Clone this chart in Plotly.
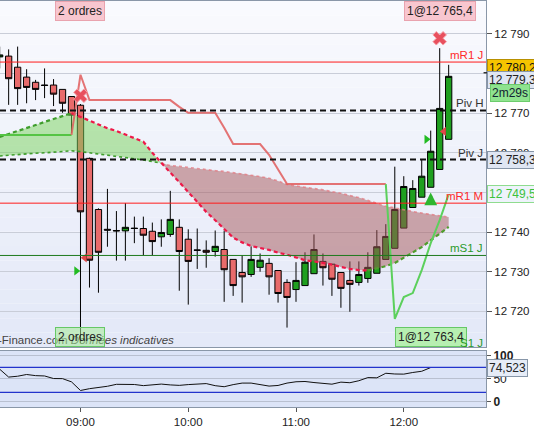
import plotly.graph_objects as go
import pandas as pd
import numpy as np

# ---------------- data ----------------
times = pd.date_range("2019-06-14 08:15", periods=51, freq="5min")

opens = [12784.2, 12784.4, 12781.6, 12779.1, 12777.8, 12777.1, 12777.1, 12776.0, 12774.2,
         12772.0, 12758.6, 12745.7, 12740.7, 12740.4, 12740.3, 12741.0, 12740.9, 12740.2, 12738.8,
         12739.4, 12741.2, 12738.2, 12735.5, 12735.4, 12735.1, 12735.6, 12733.1, 12729.8, 12729.3,
         12731.1, 12732.1, 12730.3, 12727.3, 12725.5, 12726.5, 12729.5, 12732.6, 12731.9, 12729.8,
         12727.8, 12727.3, 12728.3, 12729.6, 12733.1, 12735.9, 12741.0, 12746.2, 12748.8, 12751.3,
         12755.8, 12763.4]
highs = [12786.8, 12786.1, 12786.8, 12781.1, 12778.4, 12781.3, 12778.6, 12776.0, 12774.2,
         12772.3, 12758.8, 12746.0, 12750.9, 12745.3, 12747.3, 12743.9, 12743.9, 12742.4, 12743.2,
         12750.4, 12743.2, 12740.7, 12740.9, 12737.9, 12740.4, 12740.4, 12733.1, 12734.1, 12736.4,
         12734.6, 12733.4, 12730.3, 12728.1, 12732.4, 12734.9, 12739.4, 12734.6, 12731.9, 12729.8,
         12732.6, 12732.6, 12734.9, 12740.5, 12742.0, 12756.5, 12754.1, 12753.1, 12758.4, 12765.6,
         12786.4, 12782.2]
lows = [12781.3, 12772.1, 12772.1, 12772.5, 12773.3, 12773.8, 12771.8, 12770.1, 12765.0,
        12712.0, 12726.0, 12724.7, 12736.3, 12732.8, 12732.8, 12737.2, 12734.2, 12734.2, 12736.3,
        12738.8, 12725.2, 12721.7, 12730.7, 12731.0, 12733.8, 12722.4, 12723.9, 12722.2, 12728.7,
        12730.0, 12724.2, 12722.2, 12715.9, 12722.4, 12726.5, 12729.5, 12726.5, 12723.9, 12720.9,
        12719.9, 12726.5, 12727.2, 12729.6, 12733.1, 12735.9, 12741.0, 12746.2, 12748.8, 12751.3,
        12755.8, 12763.4]
closes = [12784.7, 12778.7, 12776.2, 12776.5, 12776.0, 12777.0, 12774.8, 12772.5, 12769.5,
          12745.1, 12732.9, 12734.9, 12740.5, 12740.3, 12741.2, 12740.9, 12739.2, 12737.6, 12739.9,
          12743.2, 12735.1, 12732.6, 12735.4, 12734.9, 12736.4, 12730.5, 12726.5, 12728.7, 12733.1,
          12732.9, 12728.7, 12724.5, 12723.5, 12727.8, 12732.4, 12735.6, 12731.0, 12728.1, 12725.8,
          12726.8, 12729.3, 12731.1, 12736.3, 12738.9, 12745.7, 12751.5, 12751.0, 12754.1, 12760.4,
          12771.2, 12779.3]

# cloud spans
span_a = [12764.0, 12764.7, 12765.5, 12766.2, 12767.0, 12767.8, 12768.5, 12769.3, 12770.0,
          12769.0, 12768.0, 12767.1, 12766.2, 12765.5, 12764.6, 12763.8, 12762.8, 12760.0, 12757.4,
          12755.0, 12752.6, 12750.1, 12747.6, 12745.1, 12743.0, 12740.8, 12738.6, 12737.4, 12736.5,
          12736.0, 12735.5, 12734.8, 12734.3, 12733.6, 12732.9, 12732.6, 12732.2, 12731.8, 12731.2,
          12730.7, 12730.4, 12730.3, 12730.8, 12731.4, 12732.2, 12733.5, 12735.0, 12736.2, 12737.9,
          12739.6, 12741.3]
span_b = [12759.2, 12759.4, 12759.5, 12759.7, 12759.9, 12760.0, 12760.2, 12760.4, 12760.5,
          12760.3, 12760.0, 12759.7, 12759.4, 12759.2, 12758.9, 12758.5, 12758.2, 12757.8, 12757.4,
          12756.8, 12756.6, 12756.3, 12756.0, 12755.8, 12755.5, 12755.3, 12755.0, 12754.7, 12754.4,
          12754.0, 12753.6, 12752.9, 12752.0, 12751.6, 12751.3, 12751.0, 12750.7, 12750.2, 12749.8,
          12749.2, 12748.7, 12748.0, 12747.2, 12746.5, 12746.1, 12745.6, 12745.2, 12744.8, 12744.4,
          12744.1, 12743.8]
# trailing stop
trail = [12764.5] * 9 + [12779.7] + [12773.3] * 10 + [12771.6] + [12770.1] * 4 + [12766.3] \
        + [12762.2] * 4 + [12759.5, 12755.7] + [12752.1] * 12 \
        + [12718.1, 12723.6, 12724.6, 12730.4, 12737.2, 12743.0, 12749.5]

# oscillator (bottom panel)
osc = [70.9, 53.5, 55.4, 59.2, 56.7, 56.0, 50.3, 50.1, 43.0,
       24.0, 28.0, 30.6, 33.3, 37.6, 36.8, 37.2, 34.7, 36.6, 38.1,
       36.3, 35.3, 37.0, 38.8, 39.2, 34.6, 32.3, 36.9, 40.3, 40.3,
       36.8, 33.7, 35.1, 40.3, 43.2, 43.8, 41.5, 40.3, 37.9, 42.4,
       41.1, 45.5, 52.4, 51.9, 61.9, 60.3, 60.0, 63.6, 66.3, 74.523]
osc_levels = [75, 20]

# levels
levels = {"mR1 J": 12782.9, "Piv H": 12770.7, "Piv J": 12758.3, "mR1 M": 12747.3, "mS1 J": 12734.1}

# orders
buy_times = pd.to_datetime(["2019-06-14 09:00", "2019-06-14 12:15"])
buy_prices = [12730.2, 12763.4]
sell_times = pd.to_datetime(["2019-06-14 09:00", "2019-06-14 12:20"])
sell_prices = [12733.5, 12765.4]
exit_times = pd.to_datetime(["2019-06-14 09:00", "2019-06-14 12:20"])
exit_prices = [12774.4, 12788.9]
signal_time = pd.Timestamp("2019-06-14 12:15")
signal_price = 12750.0

last_price = 12779.3
ask_price = 12780.2
timer_text = "2m29s"
osc_last = 74.523

# ---------------- style ----------------
FONT = "Liberation Sans, Arial, sans-serif"
FS = 11
GREEN_UP = "#1f9f1f"
RED_DN = "#e86b6b"
x0 = pd.Timestamp("2019-06-14 08:15:11")
x1 = pd.Timestamp("2019-06-14 12:45:47")
off = pd.Timedelta(seconds=140)

fig = go.Figure()

# gradient background of main panel
nb = 24
for j in range(nb):
    f = j / (nb - 1)
    r = int(249 - f * (249 - 228)); g = int(250 - f * (250 - 233)); b = int(254 - f * (254 - 248))
    fig.add_shape(type="rect", xref="x domain", yref="y domain", x0=0, x1=1,
                  y0=1 - (j + 1) / nb, y1=1 - j / nb, line_width=0,
                  fillcolor=f"rgb({r},{g},{b})", layer="below")
fig.add_shape(type="rect", xref="x2 domain", yref="y2 domain", x0=0, x1=1, y0=0, y1=1,
              line_width=0, fillcolor="#dce4f7", layer="below")

# cloud fills
tn = times.astype("int64").to_numpy() / 1e6
A = np.array(span_a); B = np.array(span_b)
def polys(sign):
    out = []
    cur_x, cur_a, cur_b = [], [], []
    d = A - B
    for i in range(len(tn)):
        ok = (d[i] * sign) >= 0
        if ok:
            cur_x.append(tn[i]); cur_a.append(A[i]); cur_b.append(B[i])
        if i < len(tn) - 1 and (d[i] * sign >= 0) != (d[i + 1] * sign >= 0):
            t = d[i] / (d[i] - d[i + 1])
            xc = tn[i] + t * (tn[i + 1] - tn[i]); yc = A[i] + t * (A[i + 1] - A[i])
            cur_x.append(xc); cur_a.append(yc); cur_b.append(yc)
            if not ((d[i + 1] * sign) >= 0):
                out.append((cur_x, cur_a, cur_b)); cur_x, cur_a, cur_b = [], [], []
    if cur_x:
        out.append((cur_x, cur_a, cur_b))
    return out

for sign, col in [(1, "rgba(120,210,90,0.5)"), (-1, "rgba(165,85,88,0.5)")]:
    for xs, aa, bb in polys(sign):
        if len(xs) < 2:
            continue
        px = list(xs) + list(xs[::-1]); py = list(aa) + list(bb[::-1])
        fig.add_trace(go.Scatter(x=pd.to_datetime(px, unit="ms"), y=py, fill="toself",
                                 fillcolor=col, line_width=0, mode="lines", hoverinfo="skip"))

def seg_line(vals, segs, width, dash=None):
    for s, e, c in segs:
        fig.add_trace(go.Scatter(x=times[s:e + 1], y=vals[s:e + 1], mode="lines",
                                 line=dict(color=c, width=width, dash=dash), hoverinfo="skip"))

seg_line(span_b, [(0, 18, "#3f9d2c"), (18, 50, "rgba(228,120,128,0.75)")], 1.6, "3px,3px")
seg_line(span_a, [(0, 8, "#3f9d2c"), (8, 41, "#ee1848"), (41, 50, "#4f9d2c")], 2.2, "4px,3px")
seg_line(trail, [(0, 8, "#55c444"), (8, 43, "rgba(224,92,92,0.85)"), (43, 50, "#5cd05c")], 2)

# levels
lvl_style = {"mR1 J": ("#ff1a1a", 1, None), "Piv H": ("#111111", 2, "6px,4px"),
             "Piv J": ("#111111", 2, "6px,4px"), "mR1 M": ("#ff1a1a", 1, None),
             "mS1 J": ("#1e7a1e", 1, None)}
lbl_col = {"mR1 J": "#ff2a2a", "Piv H": "#333333", "Piv J": "#333333", "mR1 M": "#ff2a2a",
           "mS1 J": "#2a9a2a"}
for name, v in levels.items():
    c, w, d = lvl_style[name]
    fig.add_shape(type="line", xref="x domain", yref="y", x0=0, x1=1, y0=v, y1=v,
                  line=dict(color=c, width=w, dash=d))
    fig.add_annotation(x=1, xref="x domain", y=v, yref="y", text=name, showarrow=False,
                       xanchor="right", yanchor="bottom", xshift=-1, yshift=-1,
                       font=dict(family=FONT, size=FS + 0.5, color=lbl_col[name]))

# candles
fig.add_trace(go.Candlestick(x=times, open=opens, high=highs, low=lows, close=closes,
                             increasing=dict(fillcolor=GREEN_UP, line=dict(color="#000", width=1)),
                             decreasing=dict(fillcolor=RED_DN, line=dict(color="#000", width=1)),
                             whiskerwidth=0, hoverinfo="skip"))

# order markers
fig.add_trace(go.Scatter(x=buy_times - off, y=buy_prices, mode="markers",
                         marker=dict(symbol="triangle-right", size=8, color="#22bb22")))
fig.add_trace(go.Scatter(x=sell_times + off, y=sell_prices, mode="markers",
                         marker=dict(symbol="triangle-left", size=8, color="#e04848")))
fig.add_trace(go.Scatter(x=exit_times, y=exit_prices, mode="markers",
                         marker=dict(symbol="x", size=12, color="#e8505e",
                                     line=dict(color="#f7a0a8", width=1))))
fig.add_annotation(x=signal_time, y=signal_price, xref="x", yref="y", text="", showarrow=True,
                   arrowhead=2, arrowsize=0.8, arrowwidth=3.2, arrowcolor="#2fb52f", ax=0, ay=13)

# oscillator
fig.add_trace(go.Scatter(x=times[:len(osc)], y=osc, mode="lines", xaxis="x2", yaxis="y2",
                         line=dict(color="#111", width=1), hoverinfo="skip"))
for lv in osc_levels:
    fig.add_shape(type="line", xref="x2 domain", yref="y2", x0=0, x1=1, y0=lv, y1=lv,
                  line=dict(color="#2233cc", width=1.2))

# right-side boxes
def rbox(y, text, bg, border, fc, yref="y", yshift=0):
    fig.add_annotation(x=1, xref="paper", y=y, yref=yref, text=text, showarrow=False,
                       xanchor="left", yanchor="middle", xshift=1, yshift=yshift, bgcolor=bg,
                       bordercolor=border, borderwidth=1, borderpad=1,
                       font=dict(family=FONT, size=12, color=fc))

fmt = lambda v: f"{v:,.1f}".replace(",", " ").replace(".", ",")
fig.add_shape(type="line", xref="paper", yref="y", x0=0.995, x1=1.012, y0=ask_price, y1=ask_price,
              line=dict(color="#333", width=1.5))
rbox(ask_price, fmt(ask_price), "#f5c400", "#b89000", "#111", yshift=5)
rbox(last_price, fmt(last_price), "#dfe6f3", "#8796a8", "#222", yshift=-4)
fig.add_annotation(x=1, xref="paper", y=last_price, yref="y", text=timer_text, showarrow=False,
                   xanchor="left", yanchor="middle", xshift=4, yshift=-17, bgcolor="#8fe38f",
                   bordercolor="#6ccc6c", borderwidth=1, borderpad=1,
                   font=dict(family=FONT, size=12, color="#123"))
rbox(levels["Piv J"], fmt(levels["Piv J"]), "#dfe6f3", "#8796a8", "#222")
rbox(trail[-1], fmt(trail[-1]), "#eef3fb", "#8fdc8f", "#3cc23c")
rbox(osc_last, f"{osc_last:.3f}".replace(".", ","), "#e6ecf7", "#8796a8", "#222", yref="y2")

# top / bottom order boxes
def obox(t, text, top, bg, border):
    fig.add_annotation(x=t, xref="x", y=1 if top else 0, yref="y domain", text=text,
                       showarrow=False, xanchor="center", yanchor="top" if top else "bottom",
                       bgcolor=bg, bordercolor=border, borderwidth=1, borderpad=2,
                       font=dict(family=FONT, size=12, color="#222"))

fig.add_annotation(x=0, xref="paper", y=0, yref="y domain", text="-Finance.com <i>Données indicatives</i>",
                   showarrow=False, xanchor="left", yanchor="bottom", xshift=-4, yshift=-1,
                   font=dict(family=FONT, size=FS + 0.5, color="#444"))
obox(pd.Timestamp("2019-06-14 09:00"), "2 ordres", True, "#f8c6cf", "#e9a3ae")
obox(pd.Timestamp("2019-06-14 12:20"), "1@12 765,4", True, "#f8c6cf", "#e9a3ae")
obox(pd.Timestamp("2019-06-14 09:00"), "2 ordres", False, "rgba(165,235,150,0.55)", "#66c866")
obox(pd.Timestamp("2019-06-14 12:15"), "1@12 763,4", False, "rgba(175,240,165,0.85)", "#66c866")
fig.add_annotation(x=1, xref="x domain", y=0, yref="y domain", text="S1 J", showarrow=False,
                   xanchor="right", yanchor="bottom", xshift=-1, yshift=-4,
                   font=dict(family=FONT, size=FS + 0.5, color="#2a9a2a"))

# ---------------- layout ----------------
fig.update_layout(
    width=534, height=429, margin=dict(l=0, r=48, t=0, b=22, autoexpand=False),
    paper_bgcolor="white", plot_bgcolor="rgba(0,0,0,0)", showlegend=False,
    boxgap=0.3, boxgroupgap=0,
    separators=", ", font=dict(family=FONT, size=FS, color="#222"),
    xaxis=dict(domain=[0, 1], anchor="y", range=[x0, x1], showticklabels=False, showgrid=False,
               rangeslider=dict(visible=False), showline=True, mirror=True, linecolor="#8a97a8",
               zeroline=False, ticks="", automargin=False),
    xaxis2=dict(domain=[0, 1], anchor="y2", matches="x", range=[x0, x1], showgrid=False,
                tickformat="%H:%M", dtick=3600000, tick0="2019-06-14 09:00", ticks="outside",
                ticklen=4, tickcolor="#555", showline=True, mirror=True, linecolor="#8a97a8",
                automargin=False, tickfont=dict(family=FONT, size=FS + 0.5, color="#222")),
    yaxis=dict(domain=[0.1474, 0.9975], anchor="x", side="right", range=[12711.0, 12798.3],
               dtick=10, tick0=12700, tickformat=",.0f", showgrid=True, gridcolor="#c9cdd8",
               gridwidth=1, ticks="outside", ticklen=5, tickcolor="#555", showline=True,
               linecolor="#8a97a8", zeroline=False, automargin=False,
               tickfont=dict(family=FONT, size=FS + 0.5, color="#222")),
    yaxis2=dict(domain=[0, 0.1376], anchor="x2", side="right", range=[-12.3, 110.9],
                tickvals=[0, 50, 100], ticktext=["<b>0</b>", "50", "<b>100</b>"], showgrid=True,
                gridcolor="#b9c0d0", ticks="outside", ticklen=4, tickcolor="#555", showline=True,
                linecolor="#8a97a8", zeroline=False, automargin=False,
                tickfont=dict(family=FONT, size=12, color="#222")),
)

fig.write_html("out.html", config={"displayModeBar": False},
               post_script="document.body.style.margin='0px';")
